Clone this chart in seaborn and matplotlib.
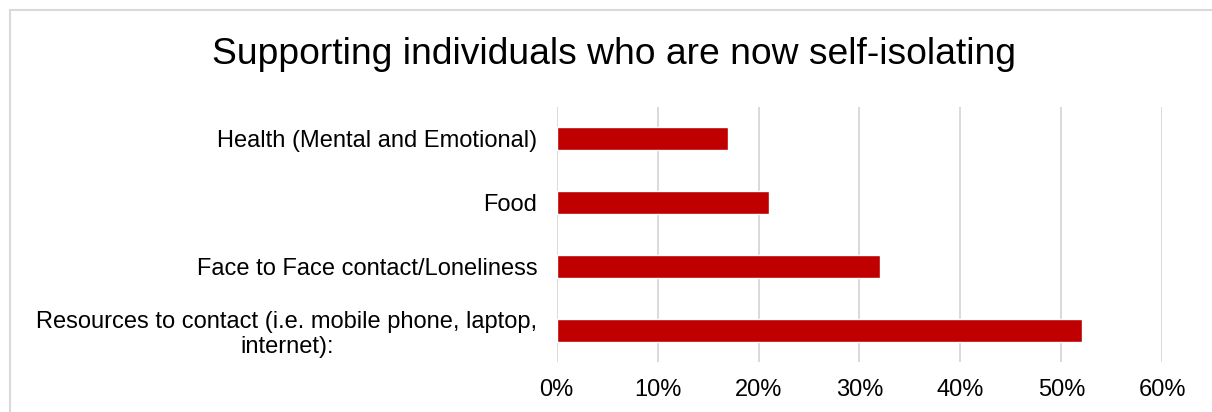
import matplotlib
matplotlib.use('Agg')
import seaborn as sns
import matplotlib.pyplot as plt
from matplotlib.patches import Rectangle
from matplotlib.ticker import PercentFormatter

# chart data
categories = [
    'Health (Mental and Emotional)',
    'Food',
    'Face to Face contact/Loneliness',
    'Resources to contact (i.e. mobile phone, laptop,\ninternet):',
]
values = [0.17, 0.21, 0.32, 0.52]
x_ticks = [0.0, 0.1, 0.2, 0.3, 0.4, 0.5, 0.6]
title = 'Supporting individuals who are now self-isolating'

sns.set_theme(style='white')
plt.rcParams['font.family'] = ['Liberation Sans', 'DejaVu Sans']

fig = plt.figure(figsize=(12.12, 4.12), dpi=100)
ax = fig.add_axes([0.4593, 0.1214, 0.4997, 0.6189])

sns.barplot(x=values, y=categories, color='#C00000', saturation=1,
            width=0.36, ax=ax)

ax.set_xlim(0, 0.6)
ax.set_xticks(x_ticks)
ax.xaxis.set_major_formatter(PercentFormatter(1.0, decimals=0))
ax.grid(axis='x', color='#D9D9D9', linewidth=1.4)
ax.set_axisbelow(True)
for s in ax.spines.values():
    s.set_visible(False)
ax.tick_params(axis='x', length=0, pad=12, labelsize=17, labelcolor='#000000')
ax.tick_params(axis='y', length=0, pad=14, labelsize=17, labelcolor='#000000')
for lbl in ax.get_yticklabels():
    lbl.set_multialignment('center')
ax.set_xlabel('')
ax.set_ylabel('')

fig.text(613.5 / 1212, 1 - 55 / 412, title, ha='center', va='center',
         fontsize=26.8, color='#000000')

# light frame around the chart area
fig.patches.append(Rectangle((10 / 1212, -0.2), 1.2, 1.2 - 10 / 412,
                             transform=fig.transFigure, fill=False,
                             edgecolor='#D9D9D9', linewidth=1.5))

fig.savefig('out.png', dpi=100)
